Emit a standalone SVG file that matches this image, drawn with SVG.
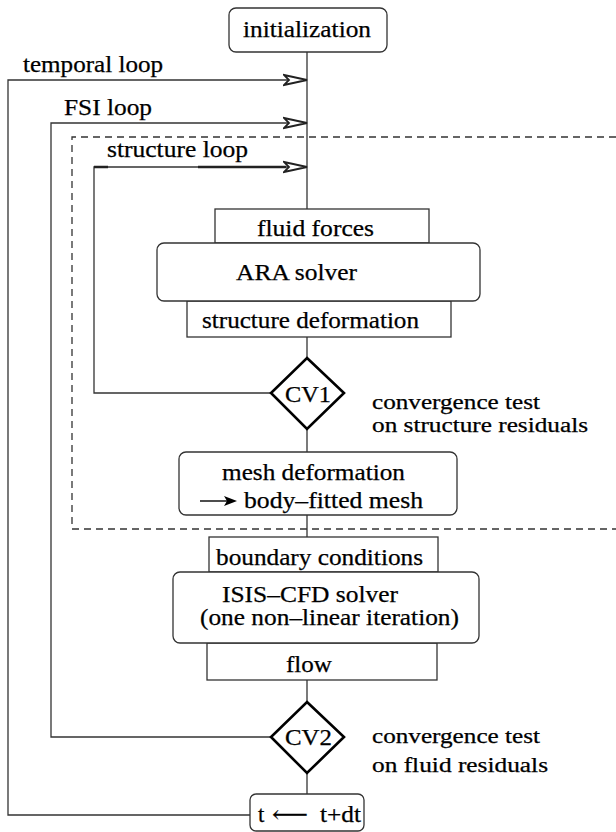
<svg xmlns="http://www.w3.org/2000/svg" width="616" height="832" viewBox="0 0 616 832">
<style>
.ln{stroke:#333;stroke-width:1.3;fill:none}
.thk{stroke:#222;stroke-width:2.4;fill:none}
.box{fill:#fff;stroke:#333;stroke-width:1.3}
.dia{fill:#fff;stroke:#000;stroke-width:2.6;stroke-linejoin:miter}
.dash{stroke:#333;stroke-width:1.3;fill:none;stroke-dasharray:7 5}
.t{font-family:"Liberation Serif","Times New Roman",Times,"DejaVu Serif",serif;font-size:23px;fill:#000;stroke:#000;stroke-width:0.25}
.s{font-size:20px}
</style>
<defs>
<marker id="open" markerUnits="userSpaceOnUse" viewBox="0 0 26 14" markerWidth="26" markerHeight="14" refX="24" refY="7" orient="auto">
<path d="M1,2 L24,7 L1,12 L6,7 Z" fill="#fff" stroke="#222" stroke-width="1.8" stroke-linejoin="miter"/>
</marker>
</defs>
<rect width="616" height="832" fill="#fff"/>

<g id="structure-zone">
<path class="dash" d="M616,137 H72 V529 H616"/>
</g>

<g id="connectors">
<path class="ln" d="M307,52 V209"/>
<path class="ln" d="M307,337 V358"/>
<path class="ln" d="M307,429 V452"/>
<path class="ln" d="M307,515 V537"/>
<path class="ln" d="M307,680 V702"/>
<path class="ln" d="M307,773 V794"/>
<path class="ln" d="M250,815 H8 V80 H307" marker-end="url(#open)"/>
<path class="ln" d="M272,737 H51 V123 H307" marker-end="url(#open)"/>
<path class="ln" d="M272,393 H94 V167 H307" marker-end="url(#open)"/>
<path class="thk" d="M94,167 H108 M198,167 H286"/>
</g>

<g id="loop-labels">
<text class="t" x="23" y="72" textLength="140" lengthAdjust="spacingAndGlyphs">temporal loop</text>
<text class="t" x="64" y="115" textLength="88" lengthAdjust="spacingAndGlyphs">FSI loop</text>
<text class="t" x="107" y="157" textLength="141" lengthAdjust="spacingAndGlyphs">structure loop</text>
</g>

<g id="initialization">
<rect class="box" x="229" y="8" width="158" height="44" rx="7"/>
<text class="t" x="243" y="37" textLength="128" lengthAdjust="spacingAndGlyphs">initialization</text>
</g>

<g id="fluid-forces">
<rect class="box" x="215" y="209" width="214" height="34"/>
<text class="t" x="257" y="236" textLength="117" lengthAdjust="spacingAndGlyphs">fluid forces</text>
</g>

<g id="structure-deformation">
<rect class="box" x="187" y="301" width="264" height="36"/>
<text class="t" x="202" y="328" textLength="217" lengthAdjust="spacingAndGlyphs">structure deformation</text>
</g>

<g id="ara-solver">
<rect class="box" x="157" y="243" width="323" height="58" rx="7"/>
<text class="t" x="236" y="280" textLength="121" lengthAdjust="spacingAndGlyphs">ARA solver</text>
</g>

<g id="cv1">
<polygon class="dia" points="307,358 344,393 307,429 271,393"/>
<text class="t" x="285" y="402" textLength="46" lengthAdjust="spacingAndGlyphs">CV1</text>
<text class="t s" x="372" y="409" textLength="168" lengthAdjust="spacingAndGlyphs">convergence test</text>
<text class="t s" x="372" y="432" textLength="216" lengthAdjust="spacingAndGlyphs">on structure residuals</text>
</g>

<g id="mesh-deformation">
<rect class="box" x="179" y="452" width="278" height="63" rx="7"/>
<text class="t" x="222" y="480" textLength="183" lengthAdjust="spacingAndGlyphs">mesh deformation</text>
<path d="M200,501 H228" stroke="#000" stroke-width="1.4"/>
<polygon points="224,496 237,501 224,506 227,501" fill="#000"/>
<text class="t" x="244" y="508" textLength="179" lengthAdjust="spacingAndGlyphs">body–fitted mesh</text>
</g>

<g id="boundary-conditions">
<rect class="box" x="209" y="537" width="229" height="35"/>
<text class="t" x="216" y="565" textLength="207" lengthAdjust="spacingAndGlyphs">boundary conditions</text>
</g>

<g id="flow">
<rect class="box" x="207" y="643" width="230" height="37"/>
<text class="t" x="286" y="672" textLength="46" lengthAdjust="spacingAndGlyphs">flow</text>
</g>

<g id="isis-cfd-solver">
<rect class="box" x="173" y="572" width="306" height="71" rx="7"/>
<text class="t" x="222" y="602" textLength="176" lengthAdjust="spacingAndGlyphs">ISIS–CFD solver</text>
<text class="t" x="200" y="625" textLength="259" lengthAdjust="spacingAndGlyphs">(one non–linear iteration)</text>
</g>

<g id="cv2">
<polygon class="dia" points="307,702 344,737 307,773 271,737"/>
<text class="t" x="285" y="745" textLength="47" lengthAdjust="spacingAndGlyphs">CV2</text>
<text class="t s" x="372" y="743" textLength="168" lengthAdjust="spacingAndGlyphs">convergence test</text>
<text class="t s" x="372" y="772" textLength="176" lengthAdjust="spacingAndGlyphs">on fluid residuals</text>
</g>

<g id="time-update">
<rect class="box" x="250" y="794" width="114" height="37" rx="6"/>
<text class="t" x="258" y="822">t</text>
<text class="t" x="272" y="822" textLength="36" lengthAdjust="spacingAndGlyphs" style="font-family:'DejaVu Serif','Liberation Serif',serif">⟵</text>
<text class="t" x="320" y="822" textLength="41" lengthAdjust="spacingAndGlyphs">t+dt</text>
</g>
</svg>
